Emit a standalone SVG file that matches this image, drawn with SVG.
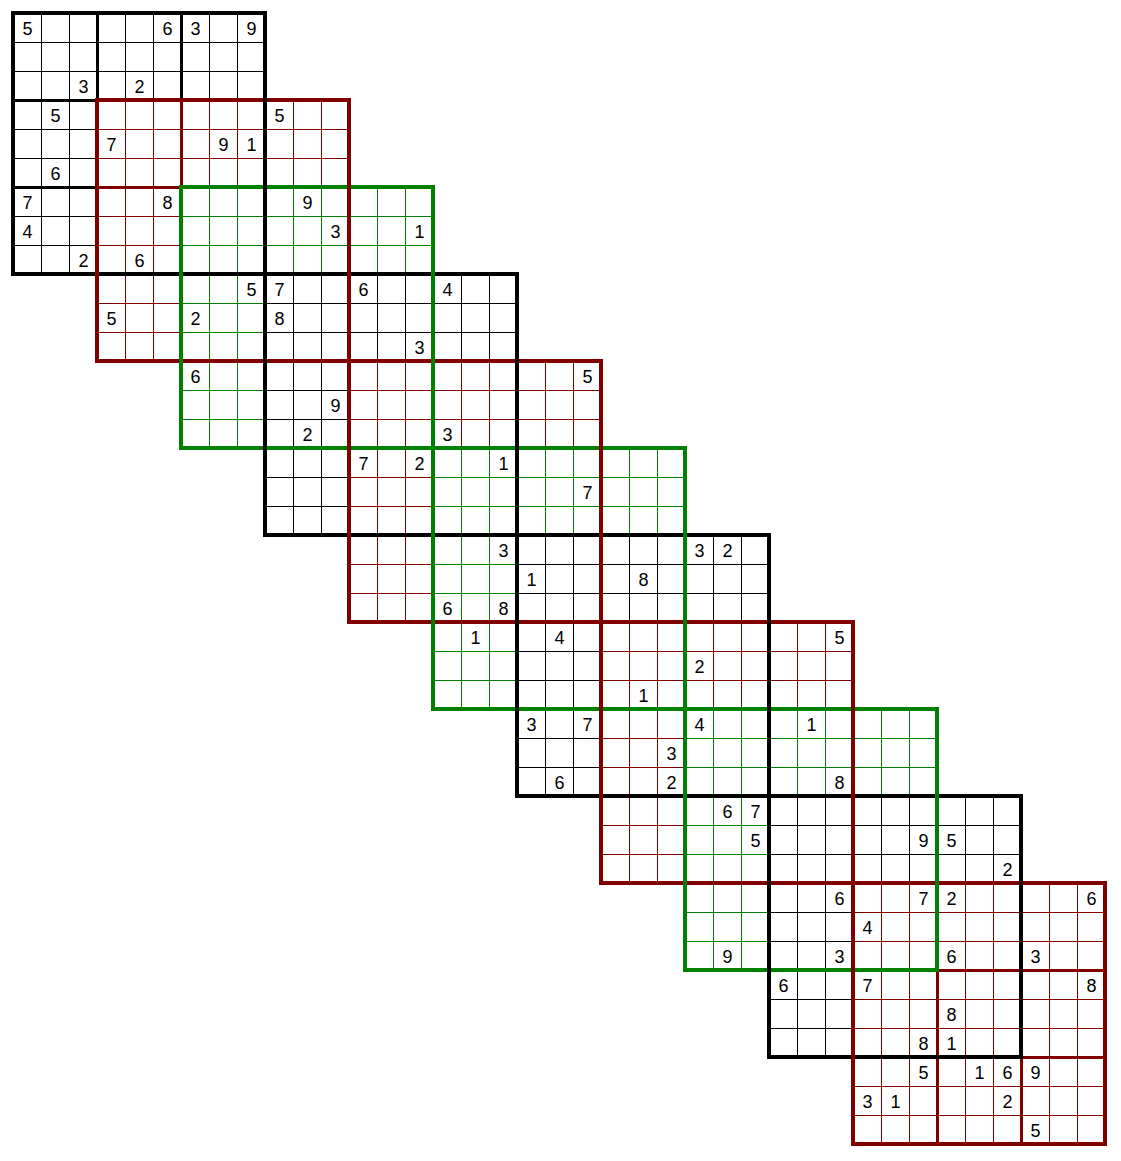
<svg xmlns="http://www.w3.org/2000/svg" width="1121" height="1161" viewBox="0 0 1121 1161">
<style>
.k{stroke:#000000}
.r{stroke:#800000}
.g{stroke:#008000}
path{fill:none;shape-rendering:crispEdges}
.thin{stroke-width:1}
.box{stroke-width:3}
.frame{stroke-width:4;stroke-linecap:square}
text{font-family:"Liberation Sans",Arial,sans-serif;font-size:18px;fill:#000;text-anchor:middle}
</style>
<rect x="0" y="0" width="1121" height="1161" fill="#ffffff"/>
<g id="grid-0" class="k" transform="translate(13 13)"><path class="thin" d="M0 29H252M0 58H252M28 0V261M56 0V261M112 0V87M140 0V87M196 0V87M224 0V87M0 116H84M0 145H84M0 203H84M0 232H84"/><path class="box" d="M84 0V261M168 0V87M0 87H252M0 174H84"/></g>
<g id="grid-1" class="r" transform="translate(97 100)"><path class="thin" d="M0 29H252M0 58H252M28 0V261M56 0V261M112 0V87M140 0V87M196 0V87M224 0V87M0 116H84M0 145H84M0 203H84M0 232H84"/><path class="box" d="M84 0V261M168 0V87M0 87H252M0 174H84"/></g>
<g id="grid-2" class="g" transform="translate(181 187)"><path class="thin" d="M0 29H252M0 58H252M28 0V261M56 0V261M112 0V87M140 0V87M196 0V87M224 0V87M0 116H84M0 145H84M0 203H84M0 232H84"/><path class="box" d="M84 0V261M168 0V87M0 87H252M0 174H84"/></g>
<g id="grid-3" class="k" transform="translate(265 274)"><path class="thin" d="M0 29H252M0 58H252M28 0V261M56 0V261M112 0V87M140 0V87M196 0V87M224 0V87M0 116H84M0 145H84M0 203H84M0 232H84"/><path class="box" d="M84 0V261M168 0V87M0 87H252M0 174H84"/></g>
<g id="grid-4" class="r" transform="translate(349 361)"><path class="thin" d="M0 29H252M0 58H252M28 0V261M56 0V261M112 0V87M140 0V87M196 0V87M224 0V87M0 116H84M0 145H84M0 203H84M0 232H84"/><path class="box" d="M84 0V261M168 0V87M0 87H252M0 174H84"/></g>
<g id="grid-5" class="g" transform="translate(433 448)"><path class="thin" d="M0 29H252M0 58H252M28 0V261M56 0V261M112 0V87M140 0V87M196 0V87M224 0V87M0 116H84M0 145H84M0 203H84M0 232H84"/><path class="box" d="M84 0V261M168 0V87M0 87H252M0 174H84"/></g>
<g id="grid-6" class="k" transform="translate(517 535)"><path class="thin" d="M0 29H252M0 58H252M28 0V261M56 0V261M112 0V87M140 0V87M196 0V87M224 0V87M0 116H84M0 145H84M0 203H84M0 232H84"/><path class="box" d="M84 0V261M168 0V87M0 87H252M0 174H84"/></g>
<g id="grid-7" class="r" transform="translate(601 622)"><path class="thin" d="M0 29H252M0 58H252M28 0V261M56 0V261M112 0V87M140 0V87M196 0V87M224 0V87M0 116H84M0 145H84M0 203H84M0 232H84"/><path class="box" d="M84 0V261M168 0V87M0 87H252M0 174H84"/></g>
<g id="grid-8" class="g" transform="translate(685 709)"><path class="thin" d="M0 29H252M0 58H252M28 0V261M56 0V261M112 0V87M140 0V87M196 0V87M224 0V87M0 116H84M0 145H84M0 203H84M0 232H84"/><path class="box" d="M84 0V261M168 0V87M0 87H252M0 174H84"/></g>
<g id="grid-9" class="k" transform="translate(769 796)"><path class="thin" d="M0 29H252M0 58H252M28 0V261M56 0V261M112 0V87M140 0V87M196 0V87M224 0V87M0 116H84M0 145H84M0 203H84M0 232H84"/><path class="box" d="M84 0V261M168 0V87M0 87H252M0 174H84"/></g>
<g id="grid-10" class="r" transform="translate(853 883)"><path class="thin" d="M0 29H252M0 58H252M0 116H252M0 145H252M0 203H252M0 232H252M28 0V261M56 0V261M112 0V261M140 0V261M196 0V261M224 0V261"/><path class="box" d="M84 0V261M168 0V261M0 87H252M0 174H252"/></g>
<g id="frames">
<path class="frame k" d="M13 13H265M13 274H265M265 274H517M265 535H517M517 535H769M517 796H769M769 796H1021M769 1057H1021"/>
<path class="frame r" d="M97 100H349M97 361H349M349 361H601M349 622H601M601 622H853M601 883H853M853 883H1105M853 1144H1105"/>
<path class="frame g" d="M181 187H433M181 448H433M433 448H685M433 709H685M685 709H937M685 970H937"/>
<path class="frame k" d="M13 13V274M265 13V274M265 274V535M517 274V535M517 535V796M769 535V796M769 796V1057M1021 796V1057"/>
<path class="frame r" d="M97 100V361M349 100V361M349 361V622M601 361V622M601 622V883M853 622V883M853 883V1144M1105 883V1144"/>
<path class="frame g" d="M181 187V448M433 187V448M433 448V709M685 448V709M685 709V970M937 709V970"/>
</g>
<g id="digits" transform="translate(0 0.5)">
<text x="27.5" y="34.5">5</text><text x="167.5" y="34.5">6</text><text x="195.5" y="34.5">3</text><text x="251.5" y="34.5">9</text>
<text x="83.5" y="92.5">3</text><text x="139.5" y="92.5">2</text>
<text x="55.5" y="121.5">5</text><text x="279.5" y="121.5">5</text>
<text x="111.5" y="150.5">7</text><text x="223.5" y="150.5">9</text><text x="251.5" y="150.5">1</text>
<text x="55.5" y="179.5">6</text>
<text x="27.5" y="208.5">7</text><text x="167.5" y="208.5">8</text><text x="307.5" y="208.5">9</text>
<text x="27.5" y="237.5">4</text><text x="335.5" y="237.5">3</text><text x="419.5" y="237.5">1</text>
<text x="83.5" y="266.5">2</text><text x="139.5" y="266.5">6</text>
<text x="251.5" y="295.5">5</text><text x="279.5" y="295.5">7</text><text x="363.5" y="295.5">6</text><text x="447.5" y="295.5">4</text>
<text x="111.5" y="324.5">5</text><text x="195.5" y="324.5">2</text><text x="279.5" y="324.5">8</text>
<text x="419.5" y="353.5">3</text>
<text x="195.5" y="382.5">6</text><text x="587.5" y="382.5">5</text>
<text x="335.5" y="411.5">9</text>
<text x="307.5" y="440.5">2</text><text x="447.5" y="440.5">3</text>
<text x="363.5" y="469.5">7</text><text x="419.5" y="469.5">2</text><text x="503.5" y="469.5">1</text>
<text x="587.5" y="498.5">7</text>
<text x="503.5" y="556.5">3</text><text x="699.5" y="556.5">3</text><text x="727.5" y="556.5">2</text>
<text x="531.5" y="585.5">1</text><text x="643.5" y="585.5">8</text>
<text x="447.5" y="614.5">6</text><text x="503.5" y="614.5">8</text>
<text x="475.5" y="643.5">1</text><text x="559.5" y="643.5">4</text><text x="839.5" y="643.5">5</text>
<text x="699.5" y="672.5">2</text>
<text x="643.5" y="701.5">1</text>
<text x="531.5" y="730.5">3</text><text x="587.5" y="730.5">7</text><text x="699.5" y="730.5">4</text><text x="811.5" y="730.5">1</text>
<text x="671.5" y="759.5">3</text>
<text x="559.5" y="788.5">6</text><text x="671.5" y="788.5">2</text><text x="839.5" y="788.5">8</text>
<text x="727.5" y="817.5">6</text><text x="755.5" y="817.5">7</text>
<text x="755.5" y="846.5">5</text><text x="923.5" y="846.5">9</text><text x="951.5" y="846.5">5</text>
<text x="1007.5" y="875.5">2</text>
<text x="839.5" y="904.5">6</text><text x="923.5" y="904.5">7</text><text x="951.5" y="904.5">2</text><text x="1091.5" y="904.5">6</text>
<text x="867.5" y="933.5">4</text>
<text x="727.5" y="962.5">9</text><text x="839.5" y="962.5">3</text><text x="951.5" y="962.5">6</text><text x="1035.5" y="962.5">3</text>
<text x="783.5" y="991.5">6</text><text x="867.5" y="991.5">7</text><text x="1091.5" y="991.5">8</text>
<text x="951.5" y="1020.5">8</text>
<text x="923.5" y="1049.5">8</text><text x="951.5" y="1049.5">1</text>
<text x="923.5" y="1078.5">5</text><text x="979.5" y="1078.5">1</text><text x="1007.5" y="1078.5">6</text><text x="1035.5" y="1078.5">9</text>
<text x="867.5" y="1107.5">3</text><text x="895.5" y="1107.5">1</text><text x="1007.5" y="1107.5">2</text>
<text x="1035.5" y="1136.5">5</text>
</g>
</svg>
